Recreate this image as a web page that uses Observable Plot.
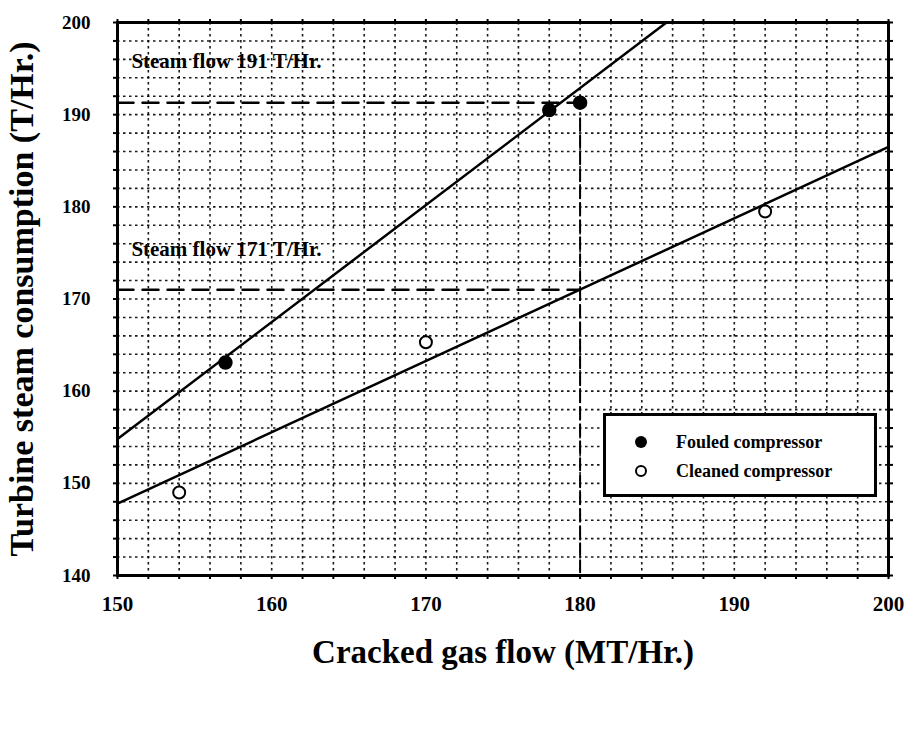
<!DOCTYPE html>
<html>
<head>
<meta charset="utf-8">
<script src="https://cdn.jsdelivr.net/npm/d3@7"></script>
<script src="https://cdn.jsdelivr.net/npm/@observablehq/plot@0.6"></script>
<style>
  html, body { margin: 0; padding: 0; background: #fff; }
  #wrap { position: relative; width: 916px; height: 749px; }
  #legend {
    position: absolute; left: 603px; top: 413px; width: 274px; height: 84px;
    border: 3px solid #000; background: #fff; box-sizing: border-box;
    font-family: "Liberation Serif", serif; font-weight: bold; font-size: 18px;
  }
  .row { position: absolute; left: 29px; display: flex; align-items: center; line-height: 20px; }
  .sym { width: 12px; height: 12px; border-radius: 50%; box-sizing: border-box; margin-right: 29px; }
</style>
</head>
<body>
<div id="wrap"></div>
<script>
// Data
const fouledX = [157, 178, 180];
const fouledY = [163.1, 190.5, 191.3];
const cleanedX = [154, 170, 192];
const cleanedY = [149.0, 165.3, 179.5];
// Fitted lines (endpoints)
const fouledLineX = [150, 185.6];
const fouledLineY = [154.8, 200];
const cleanedLineX = [150, 200];
const cleanedLineY = [147.8, 186.5];
// Steam-flow reference lines
const steamLevels = [191.3, 171];
const steamLabels = ["Steam flow 191 T/Hr.", "Steam flow 171 T/Hr."];
const steamLabelY = [195.8, 175.4];
const refX = 180;
const xTicks = [150, 160, 170, 180, 190, 200];
const yTicks = [140, 150, 160, 170, 180, 190, 200];
const xMinor = d3.range(150, 201, 2);
const yMinor = d3.range(140, 201, 2);

const fouled = fouledX.map((x, i) => ({x, y: fouledY[i]}));
const cleaned = cleanedX.map((x, i) => ({x, y: cleanedY[i]}));
const fLine = fouledLineX.map((x, i) => ({x, y: fouledLineY[i]}));
const cLine = cleanedLineX.map((x, i) => ({x, y: cleanedLineY[i]}));
const hLines = steamLevels.flatMap((y, k) => [{x: 150, y, k}, {x: refX, y, k}]);
const vLine = [{x: refX, y: 189.6}, {x: refX, y: 140}];
const labels = steamLabels.map((t, i) => ({t, y: steamLabelY[i]}));

const font = "Liberation Serif, Times New Roman, serif";
const chart = Plot.plot({
  width: 916, height: 749,
  marginLeft: 117, marginRight: 28, marginTop: 22, marginBottom: 174,
  style: {fontFamily: font, background: "#fff", color: "#000"},
  x: {domain: [150, 200], label: null},
  y: {domain: [140, 200], label: null},
  marks: [
    Plot.gridX(xMinor, {stroke: "#000", strokeOpacity: 0.9, strokeWidth: 1.6, strokeDasharray: "2.5,3.5"}),
    Plot.gridY(yMinor, {stroke: "#000", strokeOpacity: 0.9, strokeWidth: 1.6, strokeDasharray: "2.5,3.5"}),
    Plot.axisX(xMinor, {anchor: "bottom", tickSize: 4, text: null, label: null, strokeWidth: 2}),
    Plot.axisX(xMinor, {anchor: "top", tickSize: 4, text: null, label: null, strokeWidth: 2}),
    Plot.axisY(yMinor, {anchor: "left", tickSize: 4, text: null, label: null, strokeWidth: 2}),
    Plot.axisY(yMinor, {anchor: "right", tickSize: 4, text: null, label: null, strokeWidth: 2}),
    Plot.text(xTicks, {x: d => d, frameAnchor: "bottom", dy: 35, fontSize: 21, fontWeight: "bold", text: d => String(d)}),
    Plot.text(yTicks, {y: d => d, frameAnchor: "left", dx: -27, textAnchor: "end", fontSize: 19, fontWeight: "bold", text: d => String(d)}),
    Plot.line(hLines, {x: "x", y: "y", z: "k", stroke: "#000", strokeWidth: 2.5, strokeDasharray: "16,9"}),
    Plot.line(vLine, {x: "x", y: "y", stroke: "#000", strokeWidth: 2, strokeDasharray: "12,5"}),
    Plot.line(fLine, {x: "x", y: "y", stroke: "#000", strokeWidth: 2.5}),
    Plot.line(cLine, {x: "x", y: "y", stroke: "#000", strokeWidth: 2.5}),
    Plot.dot(fouled, {x: "x", y: "y", r: 6.5, fill: "#000", stroke: "#000"}),
    Plot.dot(cleaned, {x: "x", y: "y", r: 6, fill: "#fff", stroke: "#000", strokeWidth: 2}),
    Plot.text(labels, {x: () => 150.9, y: "y", text: "t", textAnchor: "start", fontSize: 21, fontWeight: "bold"}),
    Plot.frame({stroke: "#000", strokeWidth: 3}),
    Plot.text(["Cracked gas flow (MT/Hr.)"], {frameAnchor: "bottom", textAnchor: "middle", dy: 87, fontSize: 33, fontWeight: "bold"}),
    Plot.text(["Turbine steam consumption (T/Hr.)"], {frameAnchor: "left", textAnchor: "middle", dx: -95, rotate: -90, fontSize: 34, fontWeight: "bold"})
  ]
});
const wrap = document.getElementById("wrap");
wrap.appendChild(chart);
const legend = document.createElement("div");
legend.id = "legend";
legend.innerHTML = `
  <div class="row" style="top:16px"><div class="sym" style="background:#000"></div>Fouled compressor</div>
  <div class="row" style="top:45px"><div class="sym" style="background:#fff;border:2px solid #000"></div>Cleaned compressor</div>`;
wrap.appendChild(legend);
</script>
</body>
</html>
